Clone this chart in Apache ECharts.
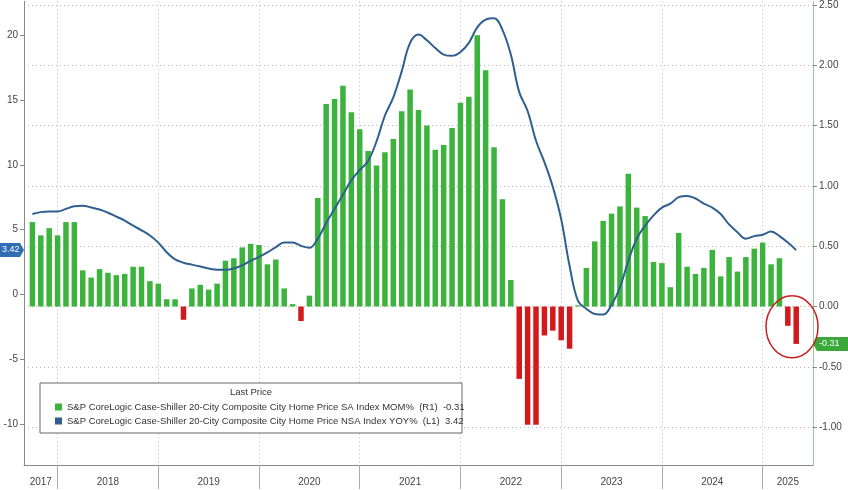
<!DOCTYPE html>
<html><head><meta charset="utf-8">
<script src="https://cdn.jsdelivr.net/npm/echarts@6/dist/echarts.min.js"></script>
<style>html,body{margin:0;padding:0;background:#fff}#c{width:848px;height:490px}</style>
</head><body><div id="c"></div>
<script>
// months Aug 2017 .. Jun 2025
const months = [];
for (let y = 2017; y <= 2025; y++) for (let m = 1; m <= 12; m++) {
  if ((y === 2017 && m < 8) || (y === 2025 && m > 6)) continue;
  months.push(y + '-' + String(m).padStart(2, '0'));
}
// SA Index MoM% (R1), Sep 2017 .. Apr 2025
const momValues = [0.70,0.59,0.65,0.59,0.70,0.70,0.30,0.24,0.31,0.28,0.26,0.27,0.33,0.33,0.21,0.19,0.06,0.06,-0.11,0.15,0.18,0.14,0.19,0.38,0.40,0.49,0.52,0.51,0.35,0.39,0.15,0.02,-0.12,0.09,0.90,
1.68,1.72,1.83,1.61,1.47,1.29,1.17,1.28,1.39,1.62,1.80,1.63,1.50,1.30,1.34,1.48,1.69,1.74,2.25,1.96,1.32,0.89,0.22,
-0.60,-0.98,-0.98,-0.24,-0.20,-0.28,-0.35,0.01,
0.32,0.54,0.71,0.77,0.83,1.10,0.82,0.75,0.37,0.36,0.16,0.61,0.33,0.27,0.32,0.47,0.25,0.41,0.29,0.41,0.48,0.53,0.35,0.40,-0.16,-0.31];
// NSA Index YoY% (L1), Sep 2017 .. Apr 2025
const yoyValues = [6.2,6.35,6.4,6.4,6.6,6.8,6.85,6.7,6.55,6.3,6.0,5.7,5.3,4.95,4.55,4.0,3.25,2.7,2.45,2.3,2.15,2.0,1.9,1.9,2.0,2.25,2.6,2.9,3.25,3.65,4.0,4.0,3.75,3.6,4.3,5.5,6.6,7.7,8.8,9.6,10.3,11.8,13.8,15.2,17.2,19.4,20.05,19.6,19.0,18.5,18.4,18.7,19.4,20.6,21.2,21.3,20.4,18.5,15.6,14.15,11.85,10.2,8.3,5.8,2.2,-0.5,-1.1,-1.5,-1.55,-0.8,0.55,2.6,4.3,5.3,6.1,6.7,7.0,7.5,7.6,7.4,7.0,6.7,6.2,5.4,4.8,4.3,4.5,4.6,4.85,4.5,4.0,3.42];
const leftTicks = [-10,-5,0,5,10,15,20];
const rightTicks = [-1,-0.5,0,0.5,1,1.5,2,2.5];
const yearLabelAt = {'2017-10':'2017','2018-06':'2018','2019-06':'2019','2020-06':'2020','2021-06':'2021','2022-06':'2022','2023-06':'2023','2024-06':'2024','2025-03':'2025'};
const momName = 'S&P CoreLogic Case-Shiller 20-City Composite City Home Price SA Index MOM%  (R1)  -0.31';
const yoyName = 'S&P CoreLogic Case-Shiller 20-City Composite City Home Price NSA Index YOY%  (L1)  3.42';

const pad = [null], tail = [null, null];
const barData = pad.concat(momValues, tail);
const lineData = pad.concat(yoyValues, tail);
const isDec = (i) => months[i].endsWith('-12');
const FONT = 'Liberation Sans Narrow, Liberation Sans, sans-serif';
const DOT = {type: [1, 3], color: '#b8b8b8', width: 1};

const chart = echarts.init(document.getElementById('c'));
chart.setOption({
  animation: false,
  backgroundColor: '#fff',
  textStyle: {fontFamily: FONT},
  grid: {left: 24, right: 35, top: 0, bottom: 25},
  xAxis: {
    type: 'category', data: months, boundaryGap: false,
    axisLine: {onZero: false, lineStyle: {color: '#888'}},
    axisTick: {interval: (i) => isDec(i), length: 24, lineStyle: {color: '#aaa'}},
    axisLabel: {interval: (i, v) => !!yearLabelAt[v], formatter: (v) => yearLabelAt[v] || '', color: '#444', fontSize: 10, margin: 12},
    splitLine: {show: true, interval: (i) => isDec(i), lineStyle: DOT}
  },
  yAxis: [
    {type: 'value', position: 'left', min: -13.15, max: 22.6,
     axisLine: {show: true, lineStyle: {color: '#888'}},
     axisTick: {show: true, customValues: leftTicks, length: 4},
     axisLabel: {customValues: leftTicks, color: '#444', fontSize: 10, margin: 6},
     splitLine: {show: false}},
    {type: 'value', position: 'right', min: -1.314, max: 2.53,
     axisLine: {show: true, lineStyle: {color: '#9c9'}},
     axisTick: {show: true, customValues: rightTicks, length: 4, lineStyle: {color: '#888'}},
     axisLabel: {customValues: rightTicks, formatter: (v) => v.toFixed(2), color: '#444', fontSize: 10, margin: 6},
     splitLine: {show: true, lineStyle: DOT}}
  ],
  legend: {
    show: true, orient: 'vertical', left: 50, top: 397, itemGap: 4, itemWidth: 7, itemHeight: 7,
    icon: 'rect', selectedMode: false, z: 20,
    textStyle: {fontSize: 9.5, color: '#333', fontFamily: FONT},
    data: [{name: momName, itemStyle: {color: '#3cb33c'}}, {name: yoyName, itemStyle: {color: '#2f5f8f'}}]
  },
  series: [
    {name: momName, type: 'bar', yAxisIndex: 1, data: barData, barWidth: 5.5,
     itemStyle: {color: (p) => p.value < 0 ? '#d2191c' : '#3cb33c'}},
    {name: yoyName, type: 'line', yAxisIndex: 0, data: lineData, smooth: 0.4, symbol: 'none',
     lineStyle: {color: '#2f5f8f', width: 2}, itemStyle: {color: '#2f5f8f'}, z: 5}
  ]
});

const lastIdx = momValues.length;
const pL = chart.convertToPixel({yAxisIndex: 0}, yoyValues[yoyValues.length - 1]);
const pR = chart.convertToPixel({yAxisIndex: 1}, momValues[momValues.length - 1]);
const pBarA = chart.convertToPixel({xAxisIndex: 0, yAxisIndex: 1}, [lastIdx - 1, -0.16]);
const pBarB = chart.convertToPixel({xAxisIndex: 0, yAxisIndex: 1}, [lastIdx, -0.31]);
chart.setOption({
  graphic: [
    {type: 'rect', shape: {x: 40, y: 383, width: 422, height: 50}, style: {fill: '#fff', stroke: '#666', lineWidth: 1}, z: 15},
    {type: 'text', x: 251, y: 387, style: {text: 'Last Price', fill: '#333', font: '9.5px ' + FONT, align: 'center'}, z: 16},
    {type: 'polygon', shape: {points: [[0, pL - 7], [20, pL - 7], [24, pL], [20, pL + 7], [0, pL + 7]]}, style: {fill: '#2f6db5'}, z: 16},
    {type: 'text', x: 2, y: pL - 5, style: {text: yoyValues[yoyValues.length - 1].toFixed(2), fill: '#fff', font: '9px ' + FONT}, z: 17},
    {type: 'polygon', shape: {points: [[813, pR], [817, pR - 7], [848, pR - 7], [848, pR + 7], [817, pR + 7]]}, style: {fill: '#3aa83a'}, z: 16},
    {type: 'text', x: 819, y: pR - 5, style: {text: momValues[momValues.length - 1].toFixed(2), fill: '#fff', font: '9px ' + FONT}, z: 17},
    {type: 'ellipse', shape: {cx: (pBarA[0] + pBarB[0]) / 2, cy: (pBarA[1] + pBarB[1]) / 2 - 8, rx: 26, ry: 31}, style: {fill: 'none', stroke: '#c82020', lineWidth: 1.5}, z: 16}
  ]
});
</script></body></html>
